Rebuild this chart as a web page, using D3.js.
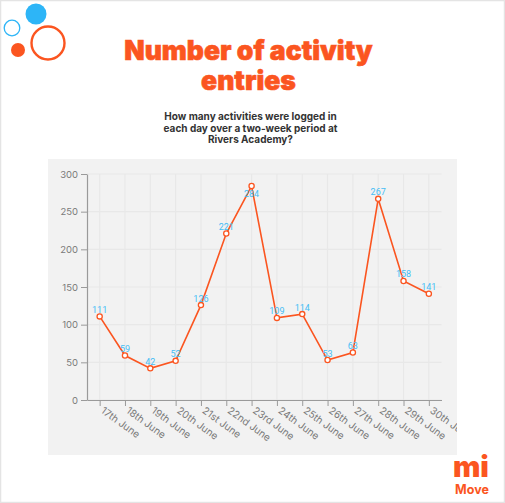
<!DOCTYPE html>
<html>
<head>
<meta charset="utf-8">
<script src="https://cdn.jsdelivr.net/npm/d3@7"></script>
<style>
html, body { margin: 0; padding: 0; background: #fff; }
svg { display: block; }
</style>
</head>
<body>
<svg id="viz" width="505" height="503"></svg>
<script>
const days = ["17th June", "18th June", "19th June", "20th June", "21st June", "22nd June", "23rd June",
    "24th June", "25th June", "26th June", "27th June", "28th June", "29th June", "30th June"];
const entries = [111, 59, 42, 52, 126, 221, 284, 109, 114, 53, 63, 267, 158, 141];
const yTicks = [0, 50, 100, 150, 200, 250, 300];
const titleLines = ["Number of activity", "entries"];
const subtitleLines = ["How many activities were logged in", "each day over a two-week period at", "Rivers Academy?"];

const orange = "#fb5520";
const blue = "#2db5f7";
const svg = d3.select("#viz");

// page frame
svg.append("rect").attr("x", 0.5).attr("y", 0.5).attr("width", 504).attr("height", 502)
    .style("fill", "#fff").style("stroke", "#e4e4e4").style("stroke-width", 1.5);

// bubbles top left
svg.append("circle").attr("cx", 36).attr("cy", 14).attr("r", 10.5).style("fill", blue);
svg.append("circle").attr("cx", 12).attr("cy", 28).attr("r", 7.8).style("fill", "none").style("stroke", blue).style("stroke-width", 1.3);
svg.append("circle").attr("cx", 18).attr("cy", 50).attr("r", 7).style("fill", orange);
svg.append("circle").attr("cx", 48).attr("cy", 43).attr("r", 16.5).style("fill", "none").style("stroke", orange).style("stroke-width", 2.4);

svg.selectAll(".title").data(titleLines).enter().append("text")
    .attr("class", "title")
    .attr("x", 248.5)
    .attr("y", (d, i) => 60 + i * 30)
    .attr("text-anchor", "middle")
    .style("font-family", "Inter, sans-serif")
    .style("font-weight", 900)
    .style("font-size", "26.5px")
    .style("fill", orange)
    .style("stroke", orange)
    .style("stroke-width", 0.6)
    .text(d => d);

svg.selectAll(".subtitle").data(subtitleLines).enter().append("text")
    .attr("class", "subtitle")
    .attr("x", 250.5)
    .attr("y", (d, i) => 120 + i * 11.6)
    .attr("text-anchor", "middle")
    .style("font-family", "Inter, sans-serif")
    .style("font-weight", 700)
    .style("font-size", "10px")
    .style("fill", "#333")
    .text(d => d);

// grey panel behind the chart
svg.append("rect").attr("x", 48).attr("y", 159).attr("width", 409).attr("height", 296).style("fill", "#f2f2f2");

const margin = {top: 174, right: 63.5, bottom: 103, left: 87};
const width = 505 - margin.left - margin.right;
const height = 503 - margin.top - margin.bottom;

const x = d3.scalePoint().domain(days).range([0, width]).padding(0.5);
const y = d3.scaleLinear().domain([0, 300]).range([height, 0]);

const g = svg.append("g").attr("transform", `translate(${margin.left},${margin.top})`);

// gridlines
g.selectAll(".gridY").data(yTicks).enter().append("line")
    .attr("class", "gridY")
    .attr("x1", 0).attr("x2", width)
    .attr("y1", d => y(d)).attr("y2", d => y(d))
    .style("stroke", "#e8e8e8")
    .style("stroke-width", 1.2);
g.selectAll(".gridX").data(days).enter().append("line")
    .attr("class", "gridX")
    .attr("x1", d => x(d)).attr("x2", d => x(d))
    .attr("y1", 0).attr("y2", height)
    .style("stroke", "#e8e8e8")
    .style("stroke-width", 1.2);

const yAxis = g.append("g").call(d3.axisLeft(y).tickValues(yTicks).tickSize(6).tickSizeOuter(0).tickPadding(3));
const xAxis = g.append("g").attr("transform", `translate(0,${height})`)
    .call(d3.axisBottom(x).tickSize(6).tickSizeOuter(0));

[yAxis, xAxis].forEach(a => {
    a.selectAll("path").style("stroke", "#9a9a9a").style("stroke-width", 1.2);
    a.selectAll("line").style("stroke", "#9a9a9a");
    a.selectAll("text")
        .style("font-family", "Inter, sans-serif")
        .style("font-size", "9.5px")
        .style("fill", "#7a7a7a");
});
xAxis.selectAll("text")
    .attr("text-anchor", "start")
    .attr("y", 0)
    .attr("dy", "0")
    .attr("transform", "translate(0,12) rotate(36)")
    .style("font-size", "10px");

// the last label is cut off by the panel edge
svg.append("defs").append("clipPath").attr("id", "panelClip").append("rect")
    .attr("x", 48 - margin.left).attr("y", 159 - margin.top - height).attr("width", 409).attr("height", 296);
xAxis.attr("clip-path", "url(#panelClip)");

const line = d3.line().x((d, i) => x(days[i])).y(d => y(d));
g.append("path").datum(entries)
    .attr("d", line)
    .style("fill", "none")
    .style("stroke", orange)
    .style("stroke-width", 1.6);

g.selectAll(".dot").data(entries).enter().append("circle")
    .attr("class", "dot")
    .attr("cx", (d, i) => x(days[i]))
    .attr("cy", d => y(d))
    .attr("r", 2.6)
    .style("fill", "#fff")
    .style("stroke", orange)
    .style("stroke-width", 1.3);

g.selectAll(".label").data(entries).enter().append("text")
    .attr("class", "label")
    .attr("x", (d, i) => x(days[i]))
    .attr("y", d => d === 284 ? y(d) + 11 : y(d) - 3.5)
    .attr("text-anchor", "middle")
    .style("font-family", "Roboto, sans-serif")
    .style("font-size", "9px")
    .style("fill", "#45bdf5")
    .text(d => d);

// logo bottom right
svg.append("text").attr("x", 471).attr("y", 477)
    .attr("text-anchor", "middle")
    .style("font-family", "Inter, sans-serif").style("font-weight", 900).style("font-size", "29px")
    .style("fill", orange).text("mi");
svg.append("text").attr("x", 472).attr("y", 493.5)
    .attr("text-anchor", "middle")
    .style("font-family", "Inter, sans-serif").style("font-weight", 700).style("font-size", "12.5px")
    .style("fill", orange).text("Move");
</script>
</body>
</html>
